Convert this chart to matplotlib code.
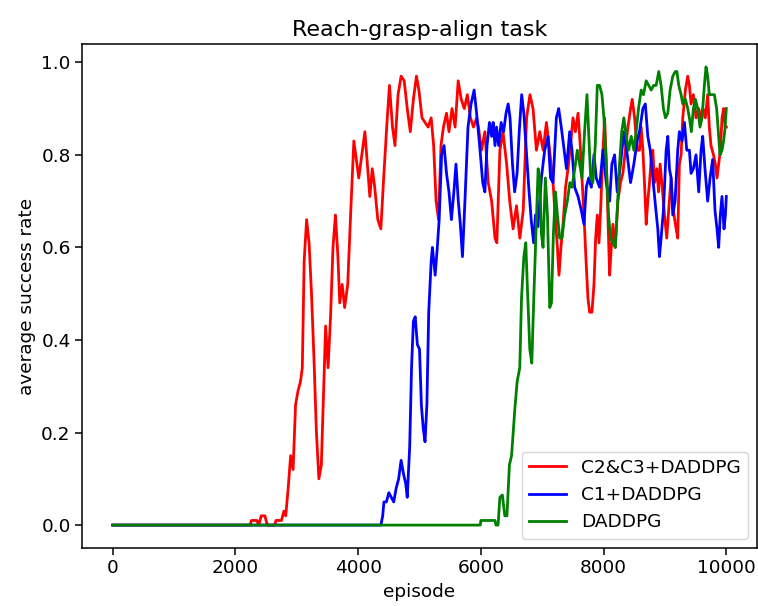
import matplotlib
matplotlib.use("Agg")
import matplotlib.pyplot as plt

# C2&C3+DADDPG (red)
red_ep = [0, 2240, 2260, 2350, 2380, 2420, 2480, 2520, 2640, 2660, 2750, 2790, 2820, 2860, 2900,
          2940, 2980, 3020, 3060, 3090, 3120, 3160, 3200, 3240, 3280, 3320, 3360, 3400, 3440, 3470,
          3510, 3550, 3590, 3630, 3670, 3700, 3740, 3780, 3830, 3880, 3930, 3970, 4010, 4060, 4110,
          4150, 4190, 4230, 4270, 4320, 4370, 4420, 4470, 4510, 4560, 4600, 4650, 4700, 4750, 4800,
          4850, 4900, 4950, 4990, 5040, 5090, 5140, 5190, 5230, 5270, 5310, 5350, 5390, 5440, 5480,
          5530, 5580, 5630, 5680, 5730, 5780, 5830, 5880, 5930, 5960, 6010, 6065, 6120, 6175, 6230,
          6260, 6310, 6360, 6420, 6470, 6525, 6580, 6635, 6690, 6745, 6800, 6850, 6905, 6960, 7015,
          7068, 7120, 7176, 7210, 7247, 7273, 7305, 7339, 7380, 7420, 7460, 7501, 7540, 7583, 7615,
          7648, 7680, 7718, 7745, 7772, 7810, 7843, 7870, 7897, 7925, 7951, 7990, 8016, 8043, 8070,
          8098, 8125, 8152, 8190, 8233, 8275, 8314, 8355, 8396, 8440, 8466, 8505, 8547, 8585, 8612,
          8640, 8666, 8694, 8720, 8748, 8775, 8802, 8830, 8867, 8895, 8921, 8955, 8992, 9029, 9060,
          9100, 9127, 9170, 9208, 9235, 9263, 9290, 9333, 9371, 9398, 9425, 9463, 9506, 9550, 9588,
          9620, 9658, 9696, 9723, 9750, 9790, 9821, 9848, 9875, 9902, 9930, 9956, 9980, 10000]
red_val = [0, 0, 0.01, 0.01, 0.0, 0.02, 0.02, 0.0, 0.0, 0.01, 0.01, 0.03, 0.02, 0.08, 0.15,
           0.12, 0.26, 0.29, 0.31, 0.34, 0.57, 0.66, 0.61, 0.50, 0.36, 0.20, 0.10, 0.13, 0.30, 0.43,
           0.34, 0.45, 0.60, 0.67, 0.58, 0.48, 0.52, 0.47, 0.52, 0.68, 0.83, 0.79, 0.75, 0.80, 0.85,
           0.78, 0.71, 0.77, 0.73, 0.66, 0.64, 0.76, 0.87, 0.95, 0.86, 0.82, 0.93, 0.97, 0.96, 0.90,
           0.85, 0.92, 0.97, 0.94, 0.88, 0.87, 0.86, 0.88, 0.82, 0.70, 0.66, 0.82, 0.86, 0.89, 0.85,
           0.90, 0.86, 0.96, 0.92, 0.90, 0.93, 0.88, 0.86, 0.88, 0.86, 0.81, 0.85, 0.74, 0.70, 0.62,
           0.61, 0.81, 0.85, 0.78, 0.70, 0.64, 0.69, 0.62, 0.68, 0.88, 0.93, 0.90, 0.81, 0.85, 0.81,
           0.87, 0.81, 0.74, 0.67, 0.60, 0.54, 0.60, 0.65, 0.73, 0.77, 0.82, 0.88, 0.85, 0.89, 0.83,
           0.75, 0.67, 0.56, 0.49, 0.46, 0.46, 0.52, 0.62, 0.67, 0.61, 0.68, 0.81, 0.88, 0.79, 0.67,
           0.54, 0.60, 0.65, 0.60, 0.70, 0.74, 0.76, 0.81, 0.86, 0.90, 0.92, 0.88, 0.81, 0.81, 0.86,
           0.81, 0.74, 0.65, 0.70, 0.74, 0.79, 0.81, 0.74, 0.77, 0.72, 0.78, 0.73, 0.67, 0.62, 0.68,
           0.75, 0.69, 0.65, 0.62, 0.78, 0.80, 0.88, 0.94, 0.97, 0.95, 0.91, 0.93, 0.88, 0.90, 0.88,
           0.90, 0.88, 0.93, 0.86, 0.82, 0.80, 0.78, 0.75, 0.78, 0.81, 0.88, 0.90, 0.86, 0.86]

# C1+DADDPG (blue)
blue_ep = [0, 4370, 4400, 4420, 4460, 4500, 4540, 4580, 4620, 4660, 4700, 4740, 4775, 4800, 4840,
           4870, 4900, 4930, 4965, 5000, 5030, 5060, 5090, 5120, 5150, 5190, 5210, 5255, 5290, 5320,
           5360, 5400, 5440, 5480, 5520, 5560, 5594, 5632, 5665, 5700, 5740, 5790, 5840, 5890, 5930,
           5980, 6030, 6065, 6100, 6140, 6175, 6200, 6230, 6255, 6290, 6330, 6370, 6410, 6445, 6475,
           6515, 6550, 6590, 6625, 6665, 6700, 6740, 6780, 6820, 6860, 6890, 6930, 6986, 7040, 7095,
           7135, 7176, 7230, 7268, 7310, 7366, 7395, 7447, 7485, 7528, 7583, 7637, 7680, 7718, 7756,
           7800, 7843, 7880, 7935, 7989, 8043, 8098, 8135, 8179, 8222, 8276, 8330, 8385, 8439, 8493,
           8547, 8585, 8640, 8680, 8720, 8760, 8802, 8845, 8883, 8910, 8937, 8975, 9019, 9046, 9073,
           9100, 9127, 9165, 9208, 9235, 9279, 9317, 9355, 9398, 9425, 9463, 9506, 9550, 9588, 9615,
           9652, 9696, 9735, 9777, 9815, 9848, 9875, 9902, 9929, 9962, 9985, 10000]
blue_val = [0, 0, 0.02, 0.05, 0.05, 0.07, 0.06, 0.05, 0.08, 0.10, 0.14, 0.11, 0.09, 0.06, 0.17,
            0.34, 0.44, 0.45, 0.39, 0.38, 0.26, 0.21, 0.18, 0.26, 0.46, 0.57, 0.60, 0.54, 0.60, 0.66,
            0.80, 0.82, 0.76, 0.72, 0.66, 0.72, 0.78, 0.70, 0.65, 0.58, 0.70, 0.86, 0.91, 0.94, 0.89,
            0.82, 0.74, 0.72, 0.82, 0.87, 0.84, 0.87, 0.82, 0.86, 0.82, 0.87, 0.85, 0.89, 0.91, 0.88,
            0.78, 0.72, 0.76, 0.85, 0.93, 0.89, 0.81, 0.73, 0.66, 0.61, 0.67, 0.645, 0.75, 0.81, 0.84,
            0.75, 0.74, 0.88, 0.90, 0.86, 0.80, 0.77, 0.85, 0.81, 0.73, 0.71, 0.68, 0.65, 0.73, 0.75,
            0.73, 0.80, 0.75, 0.73, 0.81, 0.74, 0.70, 0.78, 0.80, 0.72, 0.78, 0.85, 0.80, 0.74, 0.78,
            0.83, 0.85, 0.90, 0.91, 0.84, 0.81, 0.75, 0.69, 0.64, 0.58, 0.62, 0.68, 0.81, 0.84, 0.77,
            0.75, 0.67, 0.70, 0.81, 0.85, 0.83, 0.87, 0.81, 0.81, 0.76, 0.77, 0.80, 0.72, 0.81, 0.84,
            0.77, 0.70, 0.75, 0.79, 0.68, 0.64, 0.60, 0.67, 0.71, 0.64, 0.67, 0.71]

# DADDPG (green)
green_ep = [0, 5990, 6000, 6230, 6245, 6280, 6310, 6350, 6390, 6425, 6465, 6500, 6553, 6591, 6634,
            6662, 6700, 6732, 6759, 6797, 6830, 6862, 6895, 6933, 6960, 6986, 7013, 7051, 7085, 7122,
            7150, 7182, 7215, 7247, 7285, 7322, 7365, 7409, 7450, 7485, 7530, 7572, 7610, 7648, 7690,
            7729, 7756, 7789, 7825, 7864, 7897, 7935, 7973, 8005, 8043, 8080, 8114, 8152, 8190, 8222,
            8260, 8295, 8330, 8370, 8407, 8450, 8493, 8530, 8569, 8612, 8650, 8694, 8735, 8775, 8815,
            8856, 8899, 8937, 8975, 9008, 9046, 9084, 9127, 9170, 9195, 9225, 9263, 9290, 9333, 9371,
            9398, 9430, 9463, 9496, 9533, 9571, 9604, 9642, 9669, 9696, 9723, 9765, 9805, 9842, 9875,
            9897, 9929, 9956, 9980, 10000]
green_val = [0, 0, 0.01, 0.01, 0.0, 0.0, 0.06, 0.065, 0.02, 0.02, 0.13, 0.15, 0.25, 0.31, 0.34,
             0.49, 0.58, 0.61, 0.51, 0.38, 0.35, 0.49, 0.62, 0.77, 0.75, 0.63, 0.60, 0.75, 0.67, 0.47,
             0.48, 0.63, 0.72, 0.67, 0.62, 0.62, 0.67, 0.70, 0.74, 0.73, 0.77, 0.81, 0.78, 0.75, 0.85,
             0.93, 0.85, 0.75, 0.74, 0.82, 0.95, 0.95, 0.93, 0.88, 0.78, 0.67, 0.62, 0.61, 0.60, 0.68,
             0.78, 0.85, 0.88, 0.84, 0.81, 0.84, 0.81, 0.85, 0.90, 0.94, 0.93, 0.96, 0.95, 0.94, 0.95,
             0.95, 0.98, 0.95, 0.90, 0.88, 0.89, 0.94, 0.97, 0.98, 0.98, 0.95, 0.93, 0.91, 0.92, 0.90,
             0.88, 0.85, 0.90, 0.92, 0.90, 0.86, 0.88, 0.95, 0.99, 0.97, 0.93, 0.93, 0.93, 0.90, 0.84,
             0.80, 0.81, 0.83, 0.86, 0.90]

labels = ["C2&C3+DADDPG", "C1+DADDPG", "DADDPG"]

fig = plt.figure(figsize=(7.58, 6.06), dpi=100)
ax = fig.add_axes([0.1082, 0.0957, 0.8905, 0.8317])

ax.plot(red_ep, red_val, color="red", lw=2, label=labels[0])
ax.plot(blue_ep, blue_val, color="blue", lw=2, label=labels[1])
ax.plot(green_ep, green_val, color="green", lw=2, label=labels[2])

ax.set_xlim(-500, 10500)
ax.set_ylim(-0.0495, 1.0395)
ax.set_xticks([0, 2000, 4000, 6000, 8000, 10000])
ax.set_yticks([0.0, 0.2, 0.4, 0.6, 0.8, 1.0])
ax.tick_params(labelsize=13.3, length=4.7, width=1.1)
for s in ax.spines.values():
    s.set_linewidth(1.1)

ax.set_title("Reach-grasp-align task", fontsize=16)
ax.set_xlabel("episode", fontsize=13.3)
ax.set_ylabel("average success rate", fontsize=13.3)
ax.legend(loc="lower right", fontsize=13.3)

fig.savefig("out.png", dpi=100)
